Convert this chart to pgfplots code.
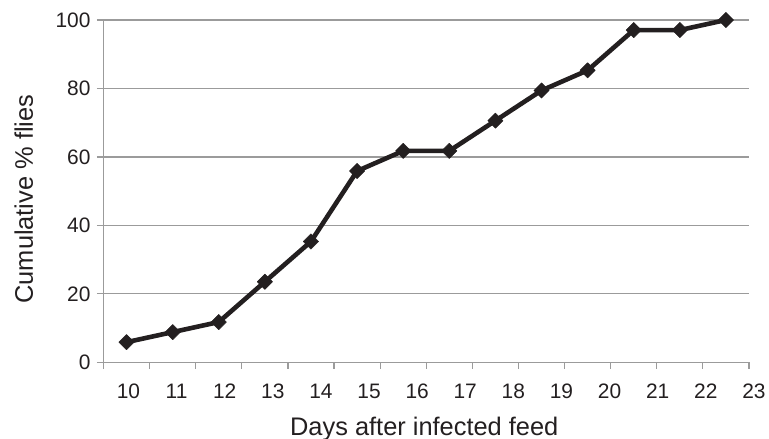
\documentclass[border=0pt]{standalone}
\usepackage{fontspec}
\setmainfont{Liberation Sans}
\usepackage{pgfplots}
\pgfplotsset{compat=1.18}
\definecolor{ink}{RGB}{35,31,32}
\definecolor{axgrey}{RGB}{155,155,155}

\begin{document}
\begin{tikzpicture}
\begin{axis}[
  name=ax,
  width=645.5bp, height=342.3bp, scale only axis,
  xmin=-0.5, xmax=13.5, ymin=0, ymax=100,
  axis x line*=bottom, axis y line*=left,
  axis line style={axgrey, line width=1.2bp, -},
  xtick={-0.5,0.5,...,13.5}, xticklabels={},
  ytick={0,20,...,100},
  ymajorgrids, grid style={axgrey, line width=1.2bp},
  tick align=outside, major tick length=6.5bp,
  tick style={axgrey, line width=1.2bp},
  ticklabel style={font=\fontsize{21}{25}\selectfont, text=ink},
  yticklabel style={xshift=-3bp},
  /pgf/number format/assume math mode=true,
  xlabel={Days after infected feed},
  ylabel={Cumulative \% flies},
  label style={font=\fontsize{25.5}{30}\selectfont, text=ink},
  xlabel style={at={(axis description cs:0.5,0)}, anchor=base, yshift=-72.7bp, xshift=-2bp},
  ylabel style={at={(axis description cs:0,0.5)}, anchor=base, yshift=70.5bp, xshift=-8bp},
  clip=false,
]
% cumulative share of flies (n = 34)
\addplot[ink, line width=4.6bp, line join=round,
  mark=square*, mark size=5.4bp, mark options={rotate=45, solid, fill=ink, line width=0.5bp}]
  coordinates {
  (0,5.88) (1,8.82) (2,11.76) (3,23.53) (4,35.29) (5,55.88) (6,61.76)
  (7,61.76) (8,70.59) (9,79.41) (10,85.29) (11,97.06) (12,97.06) (13,100)
};
% day labels, spaced a little wider than the categories as in the original
\pgfplotsinvokeforeach{0,...,13}{
  \node[anchor=base, yshift=-35.7bp, text=ink, font=\fontsize{21}{25}\selectfont]
    at (axis cs:{0.042+1.0434*#1},0) {\pgfmathparse{int(10+#1)}\pgfmathresult};
}
\end{axis}
\pgfresetboundingbox
\path[use as bounding box] ([shift={(-103.5bp,-76.7bp)}]ax.south west) rectangle ++(769bp,439bp);
\end{tikzpicture}
\end{document}
